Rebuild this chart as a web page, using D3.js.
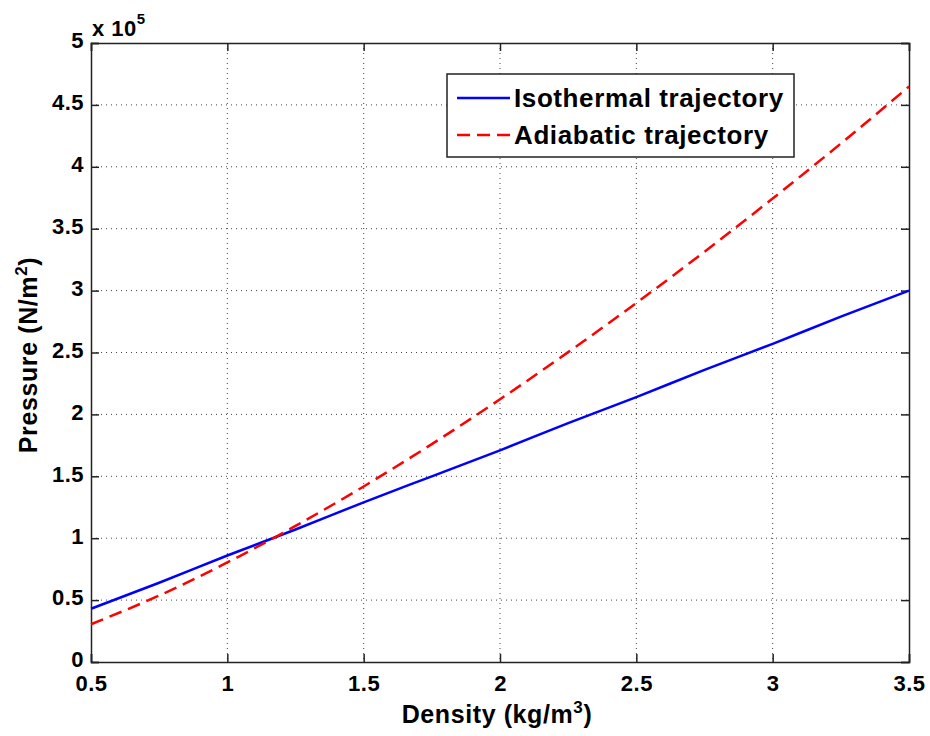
<!DOCTYPE html>
<html><head><meta charset="utf-8">
<script src="https://cdn.jsdelivr.net/npm/d3@7"></script>
<style>body{margin:0;background:#fff}svg{display:block}</style>
</head><body>
<script>
const density = [0.5,0.75,1,1.25,1.5,1.75,2,2.25,2.5,2.75,3,3.25,3.5];
const isothermal = [0.43,0.64,0.86,1.07,1.29,1.50,1.71,1.93,2.14,2.36,2.57,2.79,3.00];
const adiabatic = [0.305,0.537,0.804,1.099,1.418,1.760,2.122,2.503,2.900,3.314,3.744,4.188,4.648];
const xTicks = [0.5,1,1.5,2,2.5,3,3.5];
const yTicks = [0,0.5,1,1.5,2,2.5,3,3.5,4,4.5,5];
const seriesNames = ["Isothermal trajectory","Adiabatic trajectory"];

const W=930,H=736;
const m={l:91,t:43,r:909,b:662};
const svg=d3.select("body").append("svg").attr("width",W).attr("height",H);
const x=d3.scaleLinear().domain([0.5,3.5]).range([m.l,m.r]);
const y=d3.scaleLinear().domain([0,5]).range([m.b,m.t]);
const font="'Liberation Sans', Arial, sans-serif";

// grid
const g=svg.append("g");
g.selectAll(".vx").data(xTicks.slice(1,-1)).enter().append("line")
 .attr("x1",d=>x(d)).attr("x2",d=>x(d)).attr("y1",m.t).attr("y2",m.b)
 .attr("stroke","#444").attr("stroke-width",1).attr("stroke-dasharray","1,4");
g.selectAll(".hy").data(yTicks.slice(1,-1)).enter().append("line")
 .attr("y1",d=>y(d)).attr("y2",d=>y(d)).attr("x1",m.l).attr("x2",m.r)
 .attr("stroke","#444").attr("stroke-width",1).attr("stroke-dasharray","1,4");

// axes with inward ticks
const axB=d3.axisBottom(x).tickValues(xTicks).tickSize(-8).tickPadding(13).tickFormat(d3.format("~g"));
const axL=d3.axisLeft(y).tickValues(yTicks).tickSize(-8).tickPadding(7).tickFormat(d3.format("~g"));
const axT=d3.axisTop(x).tickValues(xTicks).tickSize(-8).tickFormat("");
const axR=d3.axisRight(y).tickValues(yTicks).tickSize(-8).tickFormat("");
function style(sel){sel.selectAll("path,line").attr("stroke","#222").attr("stroke-width",1.5);
 sel.selectAll("text").attr("font-family",font).attr("font-weight","bold").attr("font-size",22)
  .attr("letter-spacing",0.5).attr("fill","#000");}
svg.append("g").attr("transform",`translate(0,${m.b})`).call(axB).call(style);
const gl=svg.append("g").attr("transform",`translate(${m.l},0)`).call(axL).call(style);
gl.selectAll("text").attr("dy","0.22em");
svg.append("g").attr("transform",`translate(0,${m.t})`).call(axT).call(style);
svg.append("g").attr("transform",`translate(${m.r},0)`).call(axR).call(style);
svg.selectAll(".domain").attr("stroke","#222").attr("stroke-width",1.5);

// lines
const line=d3.line().x(d=>x(d[0])).y(d=>y(d[1])).curve(d3.curveMonotoneX);
svg.append("path").datum(density.map((d,i)=>[d,isothermal[i]])).attr("d",line)
 .attr("fill","none").attr("stroke","#0000ff").attr("stroke-width",2.5);
svg.append("path").datum(density.map((d,i)=>[d,adiabatic[i]])).attr("d",line)
 .attr("fill","none").attr("stroke","#ff0000").attr("stroke-width",2.5).attr("stroke-dasharray","13,7");

// exponent label
const ex=svg.append("text").attr("x",92).attr("y",36).attr("font-family",font).attr("font-weight","bold").attr("font-size",22).attr("letter-spacing",0.5);
ex.append("tspan").text("x 10");
ex.append("tspan").attr("dy",-12).attr("font-size",15).text("5");

// axis labels
const xl=svg.append("text").attr("x",497).attr("y",723).attr("text-anchor","middle")
 .attr("font-family",font).attr("font-weight","bold").attr("font-size",25).attr("letter-spacing",0.6);
xl.append("tspan").text("Density (kg/m");
xl.append("tspan").attr("dy",-10).attr("font-size",17).text("3");
xl.append("tspan").attr("dy",10).text(")");
const yl=svg.append("text").attr("transform",`translate(37,355) rotate(-90)`).attr("text-anchor","middle")
 .attr("font-family",font).attr("font-weight","bold").attr("font-size",25).attr("letter-spacing",0.6);
yl.append("tspan").text("Pressure (N/m");
yl.append("tspan").attr("dy",-10).attr("font-size",17).text("2");
yl.append("tspan").attr("dy",10).text(")");

// legend
const lg=svg.append("g");
lg.append("rect").attr("x",447).attr("y",74).attr("width",347).attr("height",83)
 .attr("fill","#fff").attr("stroke","#222").attr("stroke-width",1.5);
const cols=["#0000ff","#ff0000"],dashes=[null,"13,7"];
seriesNames.forEach((n,i)=>{
 const cy=98+i*37;
 lg.append("line").attr("x1",457).attr("x2",510).attr("y1",cy).attr("y2",cy)
  .attr("stroke",cols[i]).attr("stroke-width",2.5).attr("stroke-dasharray",dashes[i]);
 lg.append("text").attr("x",514).attr("y",cy+9).text(n)
  .attr("font-family",font).attr("font-weight","bold").attr("font-size",26).attr("letter-spacing",0.6);
});
</script>
</body></html>
